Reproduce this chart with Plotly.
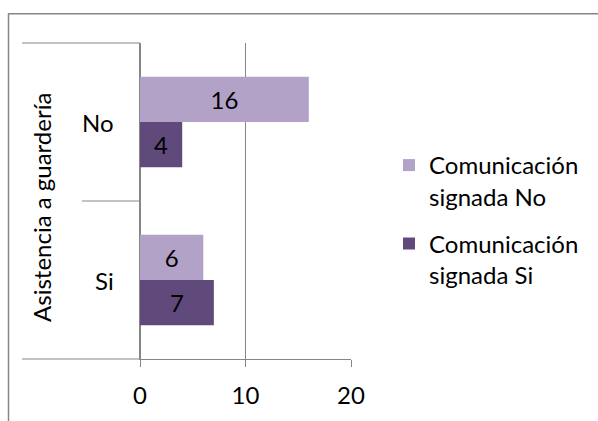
import plotly.graph_objects as go

# Data
categories = ["No", "Si"]
series_names = ["Comunicación<br>signada No", "Comunicación<br>signada Si"]
values_com_no = [16, 6]
values_com_si = [4, 7]
axis_title = "Asistencia a guardería"
x_ticks = [0, 10, 20]

LIGHT = "#B3A2C7"
DARK = "#604A7B"
GRID = "#868686"
FONT = "Lato"
FS = 24

W, H = 598, 421
L, R, T, B = 140, 247, 43, 60
PW, PH = W - L - R, H - T - B


def px_x(p):
    return (p - L) / PW


def px_y(p):
    return (H - B - p) / PH


fig = go.Figure()
for name, vals, col in [(series_names[0], values_com_no, LIGHT),
                        (series_names[1], values_com_si, DARK)]:
    fig.add_trace(go.Bar(
        y=categories, x=vals, name=name, orientation="h",
        marker=dict(color=col, line=dict(width=0)),
        text=[str(v) for v in vals], textposition="inside",
        insidetextanchor="middle", constraintext="none",
        textfont=dict(family=FONT, size=FS, color="#000000"),
    ))

# category axis separators (two-level axis look)
lines = [
    (22, 140, 43),
    (82, 140, 202),
    (22, 140, 361),
]
shapes = [dict(type="line", xref="paper", yref="paper",
               x0=px_x(a), x1=px_x(b), y0=px_y(y), y1=px_y(y),
               line=dict(color=GRID, width=1)) for a, b, y in lines]
# outer chart border
shapes.append(dict(type="rect", xref="paper", yref="paper",
                   x0=px_x(8.5), x1=px_x(700), y0=px_y(13.5), y1=px_y(500),
                   line=dict(color=GRID, width=1.5), fillcolor="rgba(0,0,0,0)"))

annotations = [dict(text=c, x=px_x(116), xref="paper", y=c, yref="y",
                    xanchor="right", yanchor="middle", showarrow=False,
                    font=dict(family=FONT, size=FS, color="#000000"))
               for c in categories]
annotations.append(dict(text=axis_title, x=px_x(42), y=px_y(209),
                        xref="paper", yref="paper", textangle=-90,
                        showarrow=False, xanchor="center", yanchor="middle",
                        font=dict(family=FONT, size=FS, color="#000000")))

fig.update_layout(
    width=W, height=H,
    margin=dict(l=L, r=R, t=T, b=B, pad=0),
    paper_bgcolor="white", plot_bgcolor="white",
    barmode="group", bargap=1.5 / 3.5, bargroupgap=0,
    font=dict(family=FONT, size=FS, color="#000000"),
    showlegend=True,
    legend=dict(xref="container", yref="container",
                x=389 / W, y=1 - 143 / H, xanchor="left", yanchor="top",
                valign="top", tracegroupgap=13,
                font=dict(family=FONT, size=FS, color="#000000"),
                bgcolor="rgba(0,0,0,0)"),
    xaxis=dict(range=[0, 20], tickvals=x_ticks, showgrid=True,
               gridcolor=GRID, gridwidth=1, zeroline=True, zerolinecolor=GRID,
               showline=True, linecolor=GRID, linewidth=1,
               ticks="outside", ticklen=7, tickcolor=GRID,
               ticklabelstandoff=8, fixedrange=True),
    yaxis=dict(categoryorder="array", categoryarray=categories,
               autorange="reversed", showticklabels=False, showgrid=False,
               zeroline=False, showline=True, linecolor=GRID, ticks=""),
    shapes=shapes, annotations=annotations,
)
for i, tr in enumerate(fig.data):
    tr.legendgroup = f"g{i}"

fig.write_html("out.html")
